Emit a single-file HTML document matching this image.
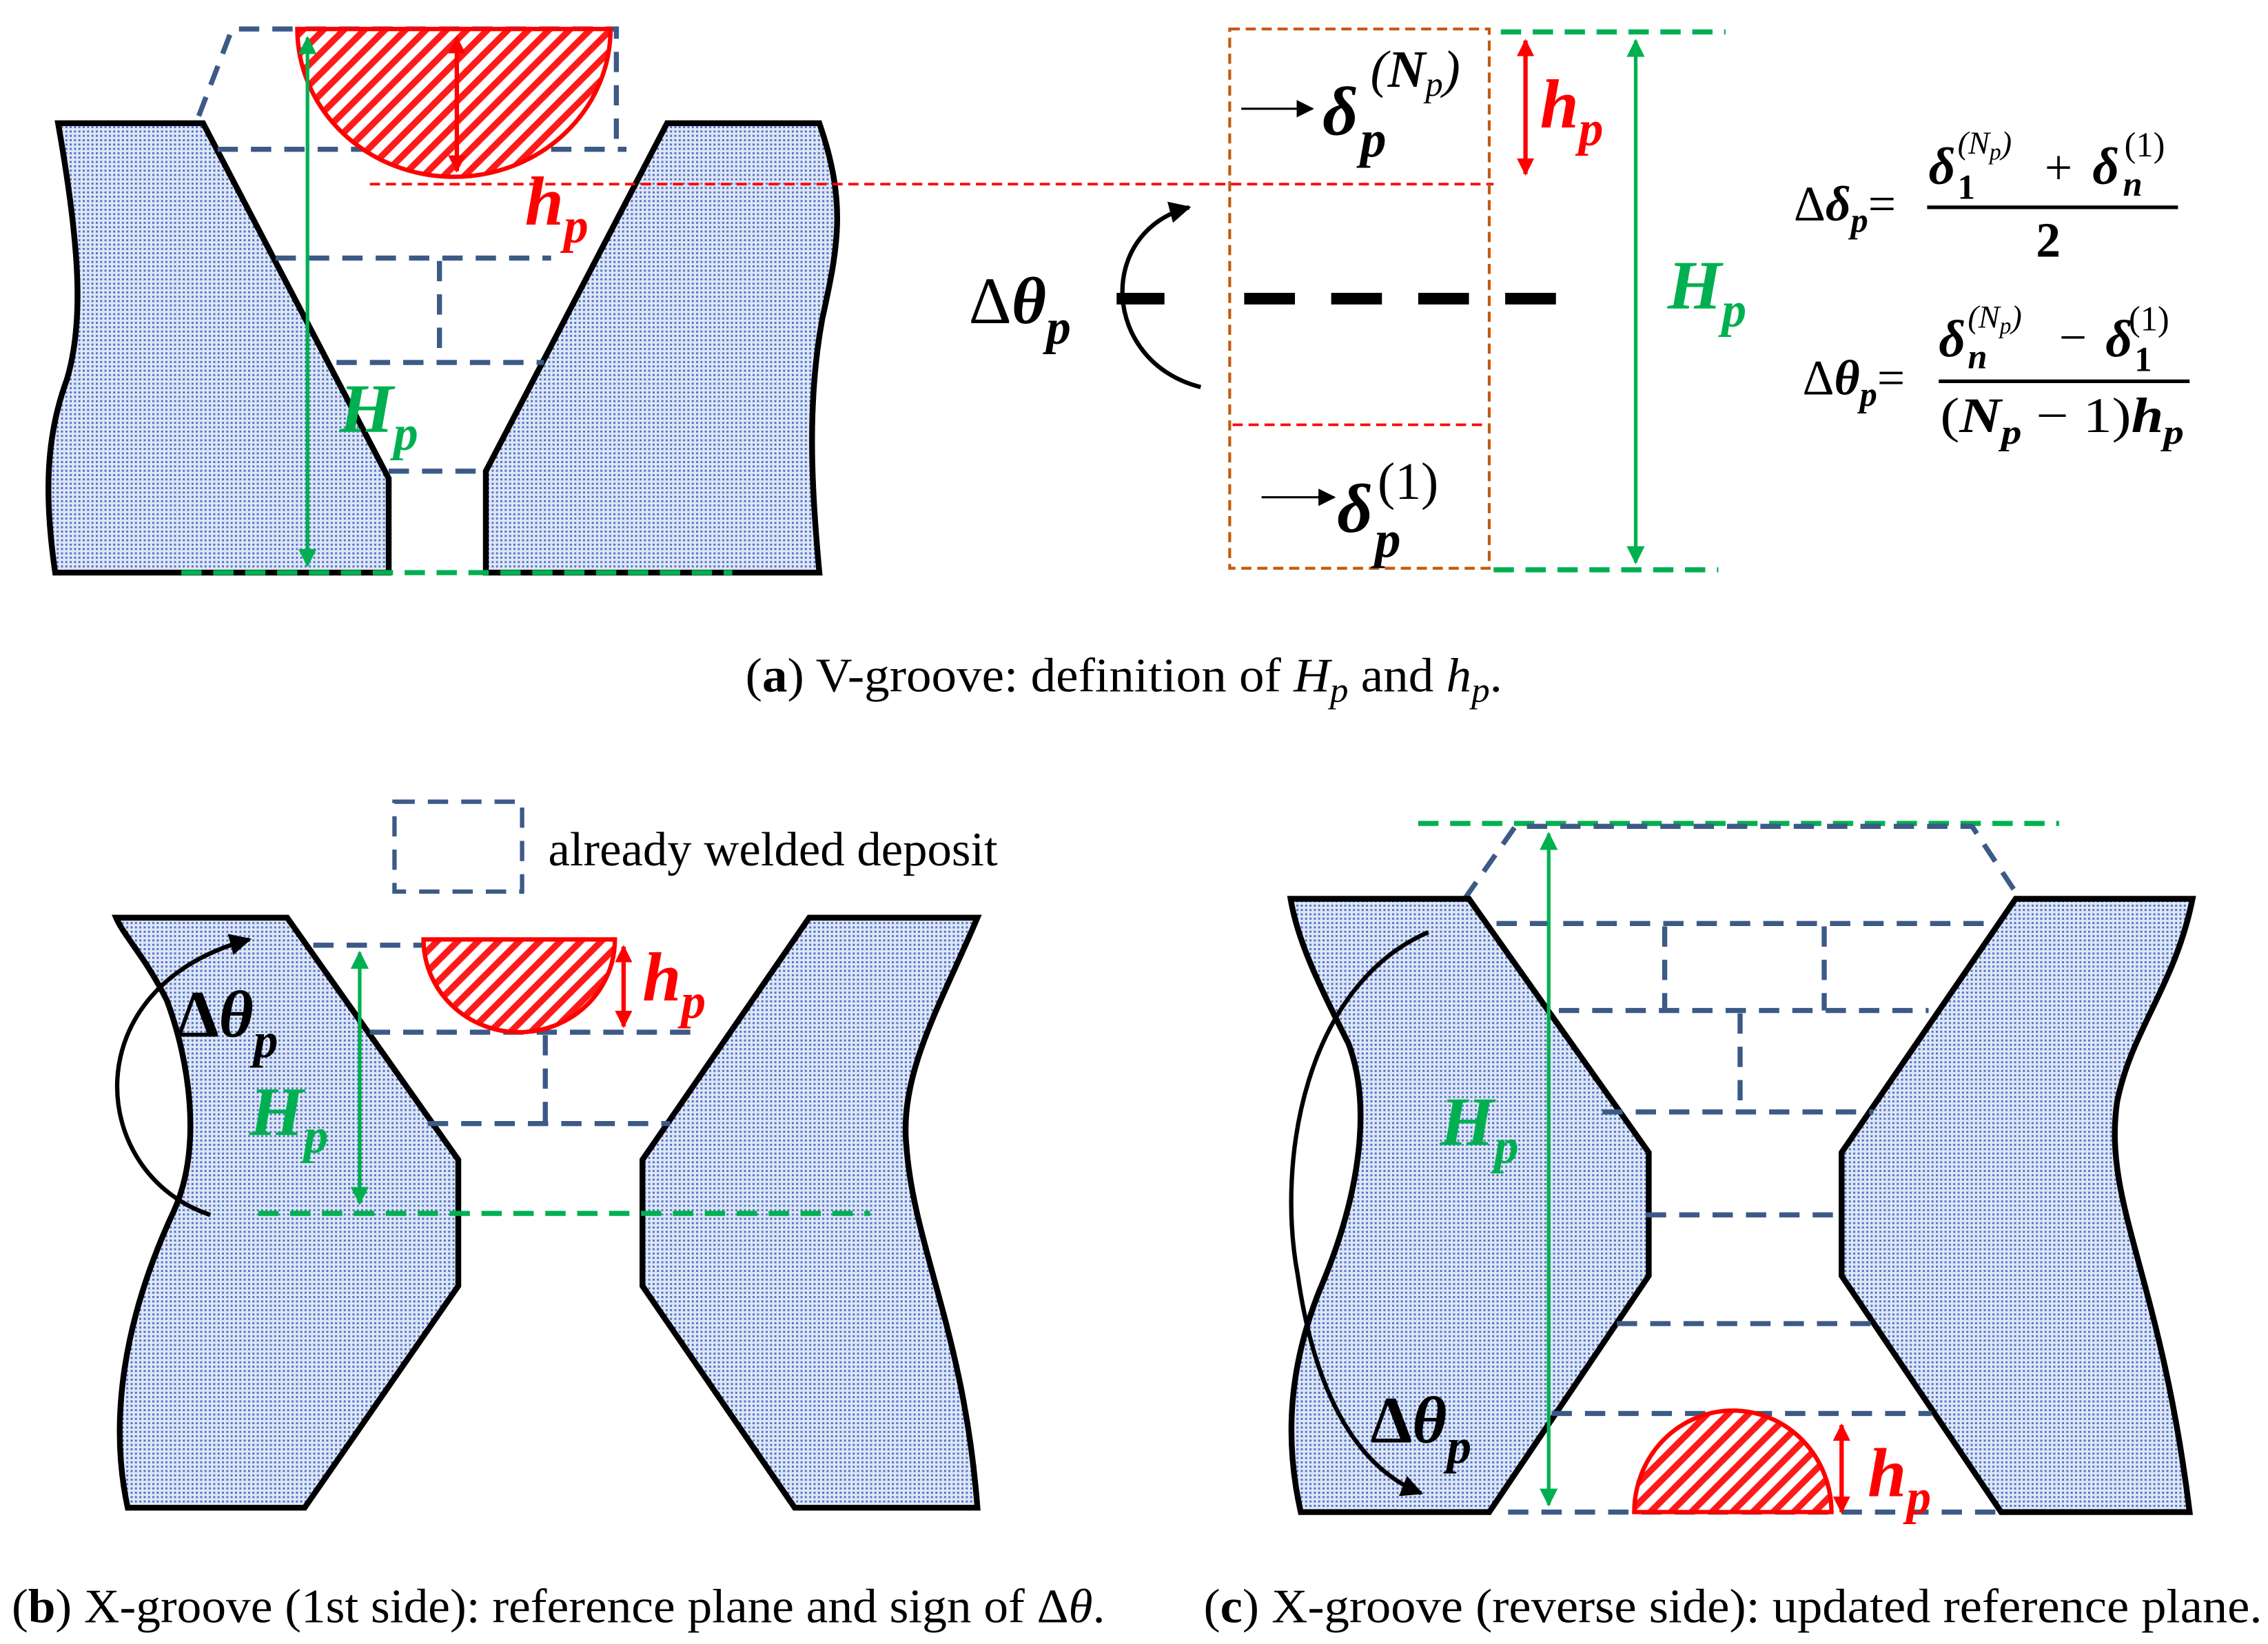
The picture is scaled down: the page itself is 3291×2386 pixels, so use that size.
<!DOCTYPE html>
<html><head><meta charset="utf-8"><style>
html,body{margin:0;padding:0;background:#fff}
svg{display:block}
.m{font-family:"Liberation Serif",serif;font-weight:bold;font-style:italic}
.u{font-family:"Liberation Serif",serif;font-weight:bold}
.c{font-family:"Liberation Serif",serif;font-size:33px}
</style></head><body>
<svg width="3291" height="2386" viewBox="0 0 1564 1134" xmlns="http://www.w3.org/2000/svg">
<defs>
<pattern id="dots" width="3" height="3" patternUnits="userSpaceOnUse"><rect width="3" height="3" fill="#dfe6f6"/><rect width="1.4" height="1.4" fill="#4d74c4"/></pattern>
<pattern id="hatch" width="10" height="10" patternUnits="userSpaceOnUse" patternTransform="rotate(45)"><rect width="10" height="10" fill="#fff"/><rect width="4.5" height="10" fill="#ff1a1a"/></pattern>
<marker id="ar" viewBox="0 0 10 10" refX="9" refY="5" markerWidth="4" markerHeight="4" orient="auto-start-reverse"><path d="M0,0L10,5L0,10Z" fill="#ff0000"/></marker>
<marker id="ag" viewBox="0 0 10 10" refX="9" refY="5" markerWidth="5" markerHeight="5" orient="auto-start-reverse"><path d="M0,0L10,5L0,10Z" fill="#00b050"/></marker>
<marker id="ak" viewBox="0 0 10 10" refX="9" refY="5" markerWidth="5" markerHeight="5" orient="auto-start-reverse"><path d="M0,0L10,5L0,10Z" fill="#000"/></marker>
<marker id="ak2" viewBox="0 0 10 10" refX="9" refY="5" markerWidth="10" markerHeight="8" orient="auto"><path d="M0,0L10,5L0,10Z" fill="#000"/></marker>
</defs>
<g fill="none" stroke-linejoin="miter">

<!-- ===== Panel (a) ===== -->
<path d="M40,85 L140,85 L268,330 L268,395 L38,395 C30,340 32,300 46,262 C58,222 55,170 40,85 Z" fill="url(#dots)" stroke="#000" stroke-width="4"/>
<path d="M460,85 L565,85 C584,140 578,170 567,220 C556,280 560,340 565,395 L335,395 L335,325 Z" fill="url(#dots)" stroke="#000" stroke-width="4"/>
<g stroke="#3c5a86" stroke-width="3.5" stroke-dasharray="14,9">
<path d="M137,80 L160,20 L425,20 L425,103"/>
<path d="M150,103 L432,103"/>
<path d="M190,178 L380,178"/>
<path d="M303,180 L303,250"/>
<path d="M232,250 L375,250"/>
<path d="M268,325 L335,325"/>
</g>
<path d="M205,20 A108,102 0 0 0 421,20 Z" fill="url(#hatch)" stroke="#ff0000" stroke-width="3"/>
<path d="M315,26 L315,118" stroke="#ff0000" stroke-width="3" marker-start="url(#ar)" marker-end="url(#ar)"/>
<path d="M255,127 L1030,127" stroke="#ff0000" stroke-width="1.8" stroke-dasharray="7,4"/>
<path d="M212,26 L212,390" stroke="#00b050" stroke-width="2.5" marker-start="url(#ag)" marker-end="url(#ag)"/>
<path d="M125,395 L505,395" stroke="#00b050" stroke-width="3.5" stroke-dasharray="14,8"/>

<rect x="848" y="20" width="179" height="372" stroke="#c55a11" stroke-width="2" stroke-dasharray="7,4"/>
<path d="M850,293 L1025,293" stroke="#ff0000" stroke-width="1.8" stroke-dasharray="7,4"/>
<path d="M770,206 L803,206 M858,206 L893,206 M918,206 L953,206 M978,206 L1013,206 M1038,206 L1073,206" stroke="#000" stroke-width="8"/>
<path d="M856,75 L905,75" stroke="#000" stroke-width="1.5" marker-end="url(#ak2)"/>
<path d="M870,343 L920,343" stroke="#000" stroke-width="1.5" marker-end="url(#ak2)"/>
<path d="M828,267 C760,250 755,160 820,143" stroke="#000" stroke-width="3" marker-end="url(#ak)"/>
<path d="M1035,22 L1190,22" stroke="#00b050" stroke-width="3.5" stroke-dasharray="14,8"/>
<path d="M1030,393 L1185,393" stroke="#00b050" stroke-width="3.5" stroke-dasharray="14,8"/>
<path d="M1128,28 L1128,388" stroke="#00b050" stroke-width="2.5" marker-start="url(#ag)" marker-end="url(#ag)"/>
<path d="M1052,28 L1052,120" stroke="#ff0000" stroke-width="3" marker-start="url(#ar)" marker-end="url(#ar)"/>
<path d="M1329,143 L1502,143" stroke="#000" stroke-width="2.5"/>
<path d="M1337,263 L1510,263" stroke="#000" stroke-width="2.5"/>

<!-- ===== Panel (b) ===== -->
<rect x="272" y="553" width="88" height="62" stroke="#3c5a86" stroke-width="3" stroke-dasharray="14,9"/>
<path d="M80,633 L198,633 L316,800 L316,887 L210,1040 L88,1040 C75,980 85,910 120,835 C140,790 130,730 115,690 C100,660 85,645 80,633 Z" fill="url(#dots)" stroke="#000" stroke-width="4"/>
<path d="M558,633 L674,633 C650,690 620,740 625,790 C630,860 665,920 674,1040 L548,1040 L443,887 L443,800 Z" fill="url(#dots)" stroke="#000" stroke-width="4"/>
<g stroke="#3c5a86" stroke-width="3.5" stroke-dasharray="14,9">
<path d="M216,652 L292,652"/>
<path d="M255,712 L478,712"/>
<path d="M376,714 L376,775"/>
<path d="M295,775 L462,775"/>
</g>
<path d="M292,648 A66,64 0 0 0 424,648 Z" fill="url(#hatch)" stroke="#ff0000" stroke-width="3"/>
<path d="M430,653 L430,708" stroke="#ff0000" stroke-width="3" marker-start="url(#ar)" marker-end="url(#ar)"/>
<path d="M248,657 L248,830" stroke="#00b050" stroke-width="2.5" marker-start="url(#ag)" marker-end="url(#ag)"/>
<path d="M178,837 L600,837" stroke="#00b050" stroke-width="3.5" stroke-dasharray="14,8"/>
<path d="M145,838 C60,810 50,680 172,648" stroke="#000" stroke-width="3" marker-end="url(#ak)"/>

<!-- ===== Panel (c) ===== -->
<path d="M978,568 L1420,568" stroke="#00b050" stroke-width="3.5" stroke-dasharray="14,8"/>
<path d="M1010,620 L1045,570 L1360,570 L1393,620" stroke="#3c5a86" stroke-width="3.5" stroke-dasharray="14,9"/>
<path d="M890,620 L1013,620 L1137,795 L1137,880 L1027,1043 L897,1043 C885,990 890,940 910,890 C940,820 945,760 930,720 C910,680 895,650 890,620 Z" fill="url(#dots)" stroke="#000" stroke-width="4"/>
<path d="M1390,620 L1512,620 C1500,680 1470,710 1460,760 C1450,830 1490,880 1510,1043 L1380,1043 L1270,880 L1270,795 Z" fill="url(#dots)" stroke="#000" stroke-width="4"/>
<g stroke="#3c5a86" stroke-width="3.5" stroke-dasharray="14,9">
<path d="M1032,637 L1372,637"/>
<path d="M1148,639 L1148,697"/>
<path d="M1258,639 L1258,697"/>
<path d="M1075,697 L1330,697"/>
<path d="M1200,699 L1200,767"/>
<path d="M1105,767 L1292,767"/>
<path d="M1135,838 L1270,838"/>
<path d="M1115,913 L1290,913"/>
<path d="M1070,975 L1332,975"/>
<path d="M1040,1043 L1380,1043"/>
</g>
<path d="M1127,1043 A68,70 0 0 1 1263,1043 Z" fill="url(#hatch)" stroke="#ff0000" stroke-width="3"/>
<path d="M1270,983 L1270,1043" stroke="#ff0000" stroke-width="3" marker-start="url(#ar)" marker-end="url(#ar)"/>
<path d="M1068,575 L1068,1038" stroke="#00b050" stroke-width="2.5" marker-start="url(#ag)" marker-end="url(#ag)"/>
<path d="M985,643 C900,680 880,800 895,880 C905,950 930,1010 980,1030" stroke="#000" stroke-width="3" marker-end="url(#ak)"/>
</g>

<!-- ===== Text ===== -->
<g class="m">
<text x="362" y="155" font-size="48" fill="#ff0000">h<tspan font-size="34" dy="12">p</tspan></text>
<text x="234" y="298" font-size="48" fill="#00b050">H<tspan font-size="34" dy="12">p</tspan></text>
<text x="1062" y="88" font-size="48" fill="#ff0000">h<tspan font-size="34" dy="12">p</tspan></text>
<text x="1150" y="213" font-size="48" fill="#00b050">H<tspan font-size="34" dy="12">p</tspan></text>
<text x="668" y="223" font-size="46" fill="#000"><tspan font-style="normal" font-weight="normal">Δ</tspan>θ<tspan font-size="34" dy="14">p</tspan></text>
<text x="912" y="93" font-size="48" fill="#000">δ</text><text x="938" y="108" font-size="36" fill="#000">p</text>
<text x="945" y="60" font-size="36" fill="#000" font-weight="normal">(<tspan font-weight="bold">N</tspan><tspan font-size="24" dy="6">p</tspan><tspan dy="-6">)</tspan></text>
<text x="922" y="367" font-size="48" fill="#000">δ</text><text x="948" y="384" font-size="36" fill="#000">p</text>
<text x="950" y="344" font-size="36" fill="#000" font-weight="normal" font-style="normal">(1)</text>

<text x="443" y="690" font-size="48" fill="#ff0000">h<tspan font-size="34" dy="12">p</tspan></text>
<text x="172" y="783" font-size="48" fill="#00b050">H<tspan font-size="34" dy="12">p</tspan></text>
<text x="122" y="715" font-size="46" fill="#000"><tspan font-style="normal">Δ</tspan>θ<tspan font-size="34" dy="14">p</tspan></text>

<text x="1288" y="1032" font-size="48" fill="#ff0000">h<tspan font-size="34" dy="12">p</tspan></text>
<text x="993" y="790" font-size="48" fill="#00b050">H<tspan font-size="34" dy="12">p</tspan></text>
<text x="945" y="995" font-size="46" fill="#000"><tspan font-style="normal">Δ</tspan>θ<tspan font-size="34" dy="14">p</tspan></text>
</g>

<!-- formulas -->
<g class="m" fill="#000">
<text x="1237" y="152" font-size="34"><tspan font-style="normal" font-weight="normal">Δ</tspan>δ<tspan font-size="24" dy="8">p</tspan><tspan dy="-8" font-style="normal" font-weight="normal">=</tspan></text>
<text x="1330" y="127" font-size="36">δ</text><text x="1350" y="137" font-size="24" font-style="normal">1</text>
<text x="1350" y="106" font-size="22" font-weight="normal">(N<tspan font-size="16" dy="4">p</tspan><tspan dy="-4">)</tspan></text>
<text x="1410" y="127" font-size="34" font-style="normal" font-weight="normal">+</text>
<text x="1443" y="127" font-size="36">δ</text><text x="1464" y="135" font-size="24">n</text>
<text x="1465" y="108" font-size="24" font-weight="normal" font-style="normal">(1)</text>
<text x="1404" y="177" font-size="34" font-style="normal">2</text>

<text x="1243" y="272" font-size="34"><tspan font-style="normal" font-weight="normal">Δ</tspan>θ<tspan font-size="24" dy="8">p</tspan><tspan dy="-8" font-style="normal" font-weight="normal">=</tspan></text>
<text x="1337" y="246" font-size="36">δ</text><text x="1357" y="254" font-size="24">n</text>
<text x="1357" y="226" font-size="22" font-weight="normal">(N<tspan font-size="16" dy="4">p</tspan><tspan dy="-4">)</tspan></text>
<text x="1420" y="244" font-size="34" font-style="normal" font-weight="normal">−</text>
<text x="1452" y="246" font-size="36">δ</text><text x="1472" y="256" font-size="24" font-style="normal">1</text>
<text x="1468" y="228" font-size="24" font-weight="normal" font-style="normal">(1)</text>
<text x="1338" y="298" font-size="34" textLength="168" lengthAdjust="spacingAndGlyphs"><tspan font-style="normal" font-weight="normal">(</tspan>N<tspan font-size="24" dy="8">p</tspan><tspan dy="-8" font-style="normal" font-weight="normal"> − 1)</tspan>h<tspan font-size="24" dy="8">p</tspan></text>
</g>

<!-- captions -->
<text class="c" x="514" y="477" textLength="522" lengthAdjust="spacingAndGlyphs">(<tspan font-weight="bold">a</tspan>) V-groove: definition of <tspan font-style="italic">H</tspan><tspan font-style="italic" font-size="24" dy="7">p</tspan><tspan dy="-7"> and </tspan><tspan font-style="italic">h</tspan><tspan font-style="italic" font-size="24" dy="7">p</tspan><tspan dy="-7">.</tspan></text>
<text class="c" x="378" y="597" textLength="310" lengthAdjust="spacingAndGlyphs">already welded deposit</text>
<text class="c" x="8" y="1119" textLength="754" lengthAdjust="spacingAndGlyphs">(<tspan font-weight="bold">b</tspan>) X-groove (1st side): reference plane and sign of Δ<tspan font-style="italic">θ</tspan>.</text>
<text class="c" x="830" y="1119" textLength="730" lengthAdjust="spacingAndGlyphs">(<tspan font-weight="bold">c</tspan>) X-groove (reverse side): updated reference plane.</text>
</svg>
</body></html>
